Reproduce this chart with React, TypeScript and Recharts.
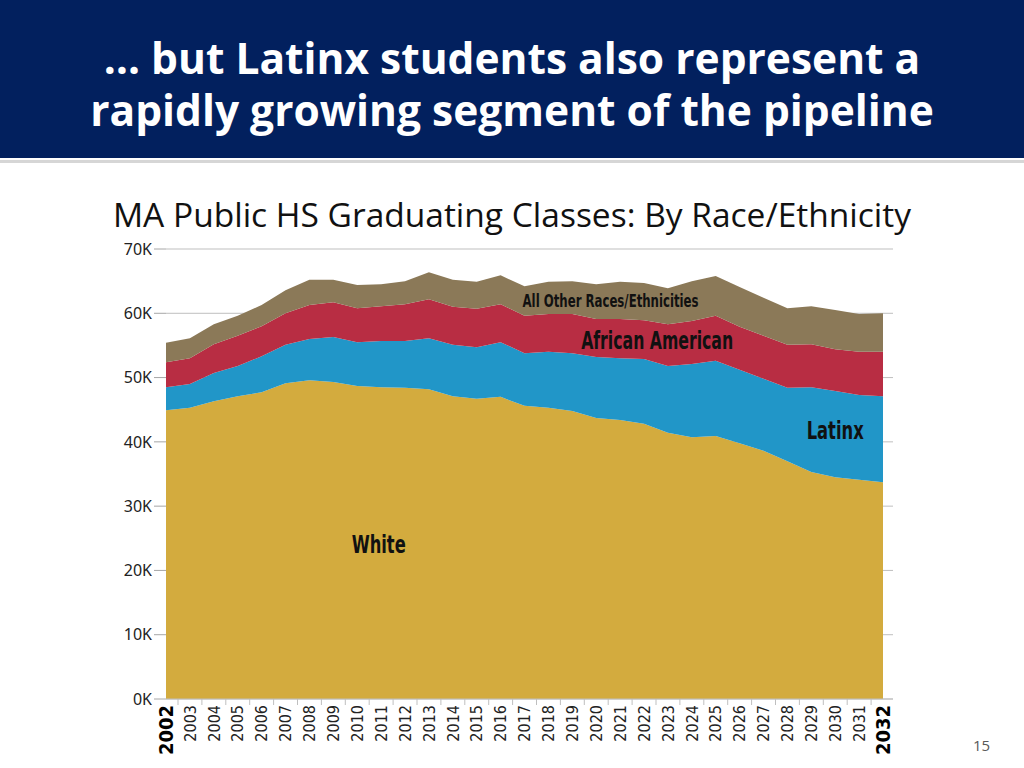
import React from 'react';
import { AreaChart, Area, XAxis, YAxis, CartesianGrid, ReferenceDot } from 'recharts';

// graduating classes, thousands of students
const years = [
  2002, 2003, 2004, 2005, 2006, 2007, 2008, 2009, 2010, 2011, 2012, 2013, 2014, 2015, 2016,
  2017, 2018, 2019, 2020, 2021, 2022, 2023, 2024, 2025, 2026, 2027, 2028, 2029, 2030, 2031, 2032,
];
const white = [
  44.9, 45.3, 46.3, 47.1, 47.7, 49.1, 49.6, 49.3, 48.7, 48.5, 48.4, 48.2, 47.1, 46.7, 47.0,
  45.6, 45.3, 44.8, 43.7, 43.4, 42.8, 41.4, 40.7, 40.9, 39.8, 38.6, 37.0, 35.3, 34.5, 34.1, 33.7,
];
const latinx = [
  3.6, 3.7, 4.4, 4.7, 5.6, 6.0, 6.4, 7.0, 6.8, 7.2, 7.3, 7.9, 8.0, 8.0, 8.5,
  8.2, 8.7, 9.0, 9.5, 9.6, 10.1, 10.4, 11.4, 11.7, 11.4, 11.2, 11.4, 13.2, 13.4, 13.2, 13.4,
];
const africanAmerican = [
  3.9, 4.0, 4.5, 4.7, 4.7, 4.9, 5.3, 5.4, 5.3, 5.4, 5.7, 6.1, 5.9, 6.0, 5.9,
  5.8, 5.9, 6.1, 5.9, 6.1, 6.0, 6.5, 6.7, 7.0, 6.7, 6.7, 6.7, 6.7, 6.5, 6.7, 6.9,
];
const otherRaces = [
  3.0, 3.1, 3.1, 3.1, 3.3, 3.6, 3.9, 3.5, 3.6, 3.4, 3.6, 4.2, 4.2, 4.2, 4.5,
  4.6, 5.0, 5.1, 5.4, 5.8, 5.8, 5.6, 6.2, 6.2, 6.2, 5.9, 5.7, 5.9, 6.1, 5.9, 6.0,
];
const yTicks = [0, 10, 20, 30, 40, 50, 60, 70];

const data = years.map((year, i) => ({
  year,
  white: white[i],
  latinx: latinx[i],
  african: africanAmerican[i],
  other: otherRaces[i],
}));

// in-chart series labels: [text, year, value(K), width, fontSize]
const seriesLabels: [string, number, number, number, number][] = [
  ['White', 2010.9, 24.1, 54, 24],
  ['Latinx', 2030.0, 41.8, 57, 24],
  ['African American', 2022.55, 55.8, 152, 24],
  ['All Other Races/Ethnicities', 2020.6, 61.9, 176, 17],
];

const narrow = '"Liberation Sans Narrow", "DejaVu Sans Condensed", sans-serif';

const titleLine: React.CSSProperties = {
  position: 'absolute', left: 0, width: 1024, color: '#fff', fontFamily: '"Open Sans", sans-serif',
  fontWeight: 700, fontSize: 42.5, lineHeight: '44px', textAlign: 'center', whiteSpace: 'nowrap',
};

const YearTick = (props: any) => {
  const { x, y, payload } = props;
  const edge = payload.value === 2002 || payload.value === 2032;
  return (
    <g transform={`translate(${x},${y})`}>
      {payload.value !== 2032 && <line x1={12} x2={12} y1={0} y2={6} stroke="#BFBFBF" />}
      <text
        transform="rotate(-90)"
        x={-6}
        y={0}
        dy="0.36em"
        textAnchor="end"
        fontFamily={narrow}
        fontSize={edge ? 20 : 16}
        fontWeight={edge ? 700 : 400}
        fill={edge ? '#000' : '#222'}
      >
        {payload.value}
      </text>
    </g>
  );
};

const App: React.FC = () => {
  return (
    <div style={{ position: 'absolute', left: 0, top: 0, width: 1024, height: 768, background: '#fff', overflow: 'hidden' }}>
      <div style={{ position: 'absolute', left: 0, top: 0, width: 1024, height: 158, background: '#02205E' }}>
        <div style={{ ...titleLine, top: 36 }}>… but Latinx students also represent a</div>
        <div style={{ ...titleLine, top: 88 }}>rapidly growing segment of the pipeline</div>
      </div>
      <div style={{ position: 'absolute', left: 0, top: 160, width: 1024, height: 3, background: '#D6D6D6' }} />
      <div
        style={{
          position: 'absolute', left: 0, top: 192, width: 1024, textAlign: 'center',
          fontFamily: '"Open Sans", sans-serif', fontSize: 33.5, color: '#111', lineHeight: '44px',
        }}
      >
        MA Public HS Graduating Classes: By Race/Ethnicity
      </div>
      <div style={{ position: 'absolute', left: 0, top: 230 }}>
        <AreaChart width={950} height={530} data={data} margin={{ top: 19, right: 57, bottom: 11, left: 0 }}>
          <CartesianGrid vertical={false} stroke="#BFBFBF" />
          <XAxis
            dataKey="year"
            type="number"
            domain={[2002, 2032]}
            ticks={years}
            interval={0}
            padding={{ left: 0, right: 10 }}
            height={50}
            tickSize={0}
            tickMargin={0}
            tick={<YearTick />}
            stroke="#BFBFBF"
          />
          <YAxis
            type="number"
            domain={[0, 70]}
            ticks={yTicks}
            width={166}
            axisLine={false}
            tickSize={12}
            tickMargin={2}
            tickLine={{ stroke: '#A6A6A6' }}
            tickFormatter={(v: number) => `${v}K`}
            tick={{ fontFamily: '"Noto Sans", sans-serif', fontSize: 16, fill: '#222' }}
          />
          <Area type="linear" dataKey="white" stackId="1" stroke="none" fill="#D3AB3E" fillOpacity={1} isAnimationActive={false} />
          <Area type="linear" dataKey="latinx" stackId="1" stroke="none" fill="#2196C8" fillOpacity={1} isAnimationActive={false} />
          <Area type="linear" dataKey="african" stackId="1" stroke="none" fill="#B82D43" fillOpacity={1} isAnimationActive={false} />
          <Area type="linear" dataKey="other" stackId="1" stroke="none" fill="#8B7958" fillOpacity={1} isAnimationActive={false} />
          {seriesLabels.map(([text, yr, val, w, fs]) => (
            <ReferenceDot
              key={text}
              x={yr}
              y={val}
              r={0}
              ifOverflow="visible"
              shape={(p: any) => (
                <text
                  x={p.cx}
                  y={p.cy}
                  dy="0.36em"
                  textAnchor="middle"
                  fontFamily={narrow}
                  fontWeight={700}
                  fontSize={fs}
                  textLength={w}
                  lengthAdjust="spacingAndGlyphs"
                  fill="#111"
                >
                  {text}
                </text>
              )}
            />
          ))}
        </AreaChart>
      </div>
      <div
        style={{
          position: 'absolute', left: 973, top: 735, fontFamily: '"Open Sans", sans-serif',
          fontSize: 15, color: '#595959',
        }}
      >
        15
      </div>
    </div>
  );
};

export default App;
